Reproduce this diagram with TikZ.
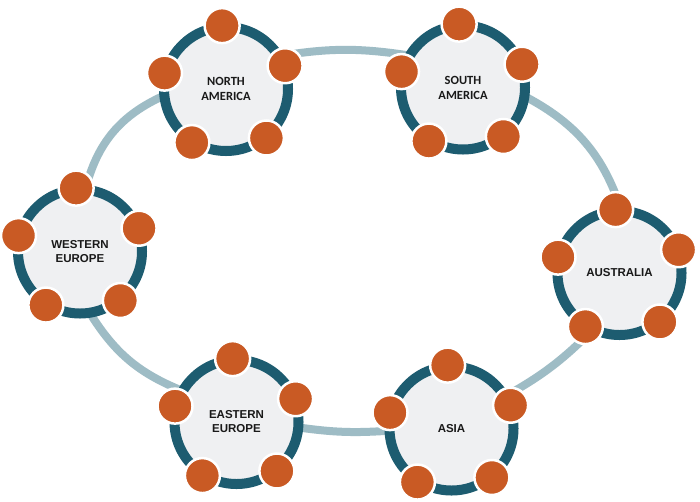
\documentclass[tikz,border=0pt]{standalone}
\usepackage{fontspec}
\setmainfont{Liberation Sans}
\newfontfamily\calib{Carlito}
\usetikzlibrary{backgrounds}
\definecolor{tealring}{RGB}{29,92,112}
\definecolor{orng}{RGB}{201,90,36}
\definecolor{hubfill}{RGB}{239,240,242}
\definecolor{linkc}{RGB}{158,188,197}
\definecolor{txt}{RGB}{25,25,25}
\tikzset{
  hub/.style={circle, draw=tealring, line width=10pt, fill=hubfill,
    minimum size=124pt, inner sep=0pt, outer sep=0pt, align=center,
    text=txt, font=\bfseries\fontsize{11.5}{14}\selectfont},
  hubc/.style={hub, font=\calib\bfseries\fontsize{12.5}{15}\selectfont},
  dot/.style={circle, fill=orng, draw=white, line width=2.5pt,
    minimum size=35pt, inner sep=0pt, outer sep=0pt},
  linkline/.style={draw=linkc, line width=8pt},
}
\begin{document}
\begin{tikzpicture}[x=1pt,y=1pt]
\useasboundingbox (0,0) rectangle (700,-501);
% clusters
\node[hubc] (na) at (226,-89) {NORTH\\AMERICA};
\node[hubc] (sa) at (463,-87.5) {SOUTH\\AMERICA};
\node[hub] (we) at (80,-251.5) {WESTERN\\EUROPE};
\node[hub] (au) at (619.5,-273) {AUSTRALIA};
\node[hub] (ee) at (236.5,-422) {EASTERN\\EUROPE};
\node[hub] (as) at (451.5,-428.5) {ASIA};
\foreach \c in {na,sa,we,au,ee,as}{
  \foreach \k in {1,...,5}{
    \node[dot] (\c\k) at ([shift={(93.5+72*\k-72:63.5)}]\c.center) {};
  }
}
% connecting ring segments
\begin{pgfonlayer}{background}
  \fill[white] (0,0) rectangle (700,-501);
  \draw[linkline] (na.32) to[bend left=9] (sa.149);
  \draw[linkline] (sa.-8) to[bend left=22] (au.88);
  \draw[linkline] (au.-115) to[bend left=8] (as.31);
  \draw[linkline] (as.182) to[bend left=6] (ee.-5);
  \draw[linkline] (ee.150) to[bend left=18] (we.-81);
  \draw[linkline] (we.85) to[bend left=26] (na.186);
\end{pgfonlayer}
\end{tikzpicture}
\end{document}
